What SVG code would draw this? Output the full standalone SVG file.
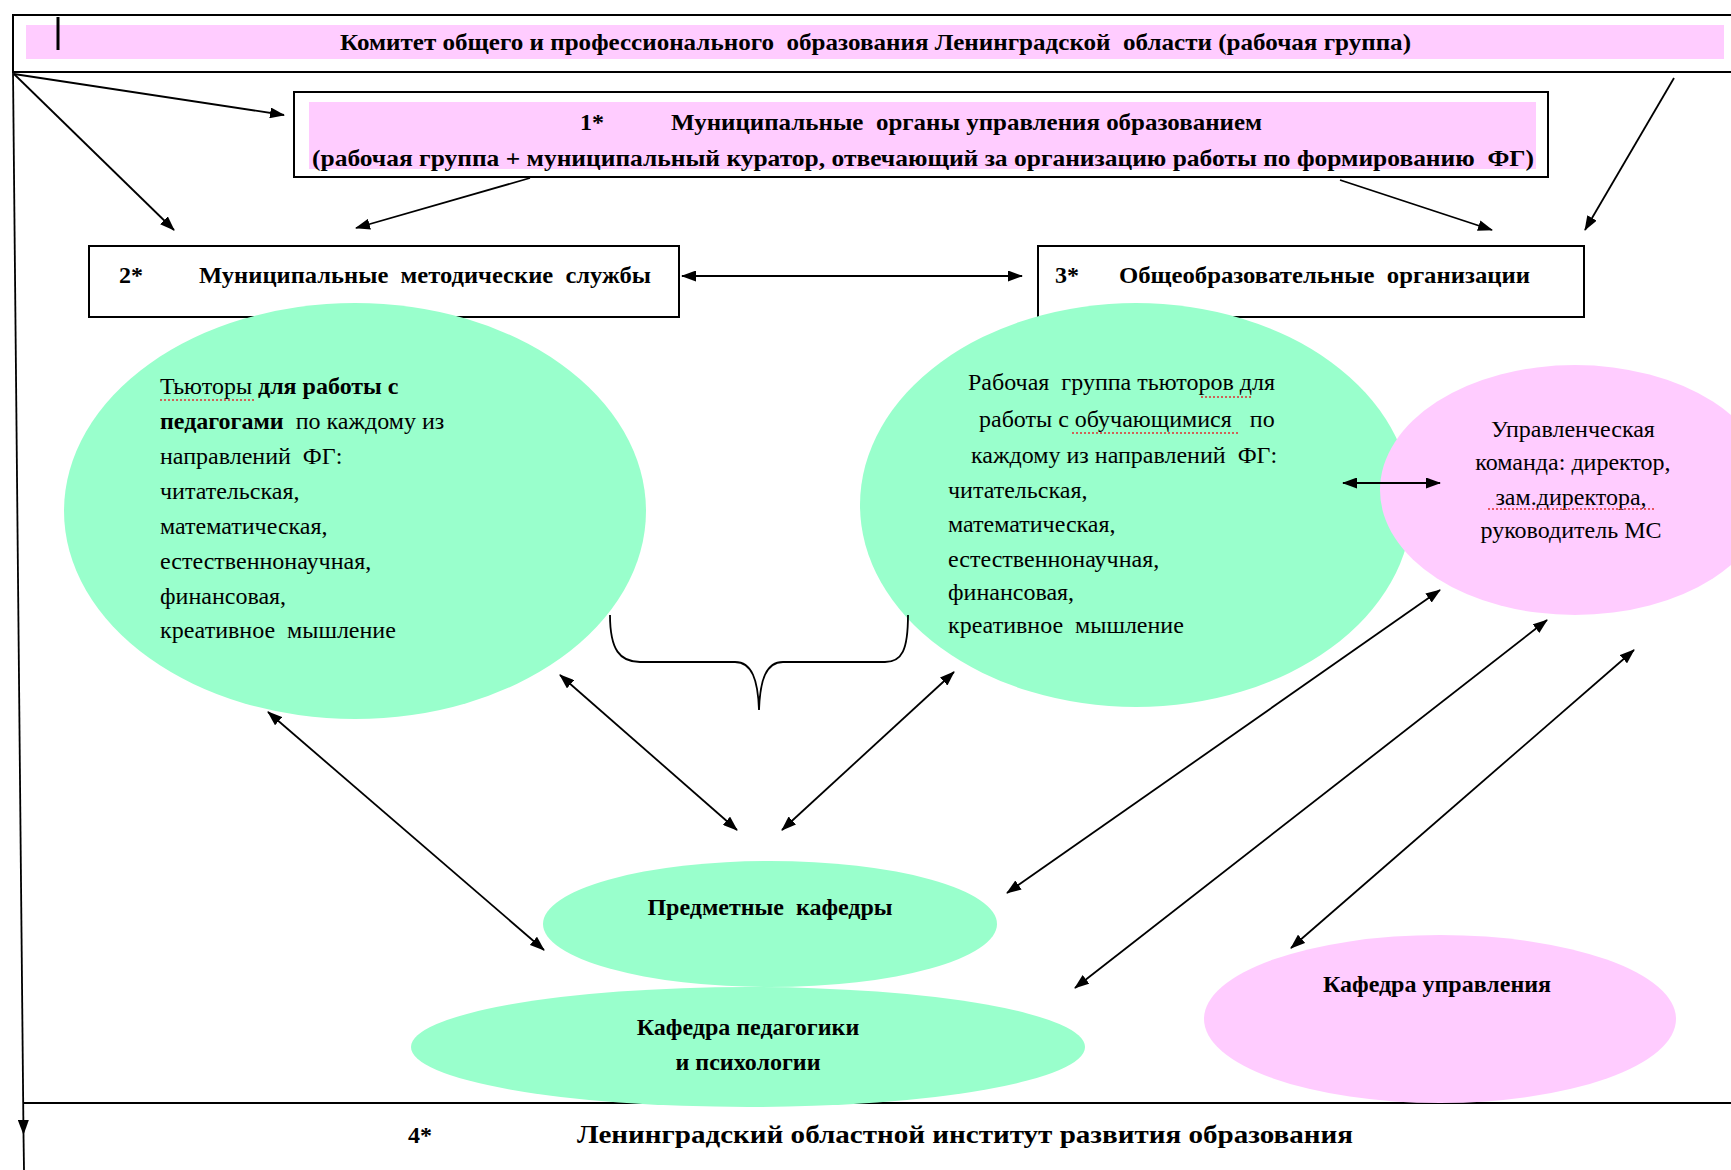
<svg xmlns="http://www.w3.org/2000/svg" width="1731" height="1170" viewBox="0 0 1731 1170">
<defs>
<marker id="ah" markerUnits="userSpaceOnUse" markerWidth="15" markerHeight="11" refX="14" refY="5.5" orient="auto-start-reverse">
<path d="M0,0 L15,5.5 L0,11 z" fill="#000"/>
</marker>
<style>
.box{fill:#fff;stroke:#000;stroke-width:2}
.pink{fill:#FFCCFF}
.green{fill:#99FFCC}
.t{font-family:"Liberation Serif","Times New Roman",serif;font-size:24px;fill:#000;white-space:pre}
.b{font-weight:bold}
.c{text-anchor:middle}
.ln{stroke:#000;stroke-width:1.8;fill:none}
.one{marker-end:url(#ah)}
.two{marker-start:url(#ah);marker-end:url(#ah)}
.sp{stroke:#e03030;stroke-width:1.6;stroke-dasharray:2 2;fill:none}
</style>
</defs>
<rect width="1731" height="1170" fill="#fff"/>

<g id="node-committee">
<rect class="box" x="13" y="15" width="1730" height="57"/>
<rect class="pink" x="26" y="25" width="1698" height="34"/>
<line x1="58" y1="17" x2="58" y2="50" stroke="#000" stroke-width="3"/>
<text class="t b" x="340" y="50" textLength="1071" lengthAdjust="spacingAndGlyphs">Комитет общего и профессионального  образования Ленинградской  области (рабочая группа)</text>
</g>

<g id="node-4-institute">
<line x1="24" y1="1103" x2="1731" y2="1103" stroke="#000" stroke-width="2"/>
<text class="t b" x="408" y="1143" font-size="26">4*</text>
<text class="t b" x="577" y="1143" style="font-size:26px" textLength="776" lengthAdjust="spacingAndGlyphs">Ленинградский областной институт развития образования</text>
</g>

<g id="node-1-municipal">
<rect class="box" x="294" y="92" width="1254" height="85"/>
<rect class="pink" x="309" y="102" width="1227" height="67"/>
<text class="t b" x="580" y="130">1*</text>
<text class="t b" x="671" y="130" textLength="591" lengthAdjust="spacingAndGlyphs">Муниципальные  органы управления образованием</text>
<text class="t b" x="312" y="166" textLength="1222" lengthAdjust="spacingAndGlyphs">(рабочая группа + муниципальный куратор, отвечающий за организацию работы по формированию  ФГ)</text>
</g>

<g id="node-2-methodic">
<rect class="box" x="89" y="246" width="590" height="71"/>
<text class="t b" x="119" y="283">2*</text>
<text class="t b" x="199" y="283" textLength="452" lengthAdjust="spacingAndGlyphs">Муниципальные  методические  службы</text>
</g>

<g id="node-3-schools">
<rect class="box" x="1038" y="246" width="546" height="71"/>
<text class="t b" x="1055" y="283">3*</text>
<text class="t b" x="1119" y="283" textLength="411" lengthAdjust="spacingAndGlyphs">Общеобразовательные  организации</text>
</g>

<g id="node-tutors-teachers">
<ellipse class="green" cx="355" cy="511" rx="291" ry="208"/>
<text class="t" x="160" y="394">Тьюторы <tspan class="b">для работы с</tspan></text>
<text class="t" x="160" y="429"><tspan class="b">педагогами</tspan>  по каждому из</text>
<text class="t" x="160" y="464">направлений  ФГ:</text>
<text class="t" x="160" y="499">читательская,</text>
<text class="t" x="160" y="534">математическая,</text>
<text class="t" x="160" y="569">естественнонаучная,</text>
<text class="t" x="160" y="604">финансовая,</text>
<text class="t" x="160" y="638">креативное  мышление</text>
</g>

<g id="node-tutors-students">
<ellipse class="green" cx="1136" cy="505" rx="276" ry="202"/>
<text class="t" x="968" y="390">Рабочая  группа тьюторов для</text>
<text class="t" x="979" y="427">работы с обучающимися   по</text>
<text class="t" x="971" y="463">каждому из направлений  ФГ:</text>
<text class="t" x="948" y="498">читательская,</text>
<text class="t" x="948" y="532">математическая,</text>
<text class="t" x="948" y="567">естественнонаучная,</text>
<text class="t" x="948" y="600">финансовая,</text>
<text class="t" x="948" y="633">креативное  мышление</text>
</g>

<g id="node-management-team">
<ellipse class="pink" cx="1575" cy="490" rx="195" ry="125"/>
<text class="t c" x="1573" y="437">Управленческая</text>
<text class="t c" x="1573" y="470">команда: директор,</text>
<text class="t c" x="1571" y="505">зам.директора,</text>
<text class="t c" x="1571" y="538">руководитель МС</text>
</g>

<g id="node-subject-depts">
<ellipse class="green" cx="770" cy="924" rx="227" ry="63"/>
<text class="t b c" x="770" y="915">Предметные  кафедры</text>
</g>

<g id="node-pedagogy-dept">
<ellipse class="green" cx="748" cy="1047" rx="337" ry="60"/>
<text class="t b c" x="748" y="1035">Кафедра педагогики</text>
<text class="t b c" x="748" y="1070">и психологии</text>
</g>

<g id="node-management-dept">
<ellipse class="pink" cx="1440" cy="1019" rx="236" ry="84"/>
<text class="t b c" x="1437" y="992">Кафедра управления</text>
</g>

<g id="spellcheck">
<line class="sp" x1="160" y1="400" x2="256" y2="400"/>
<line class="sp" x1="1201" y1="397" x2="1252" y2="397"/>
<line class="sp" x1="1072" y1="433" x2="1238" y2="433"/>
<line class="sp" x1="1488" y1="509" x2="1654" y2="509"/>
</g>

<g id="connectors">
<line class="ln one" x1="14" y1="74" x2="284" y2="115"/>
<line class="ln one" x1="14" y1="74" x2="174" y2="230"/>
<line class="ln one" x1="530" y1="178" x2="356" y2="228"/>
<line class="ln one" x1="1340" y1="180" x2="1492" y2="230"/>
<line class="ln one" x1="1674" y1="78" x2="1585" y2="230"/>
<line class="ln two" x1="682" y1="276" x2="1022" y2="276"/>
<line class="ln two" x1="1343" y1="483" x2="1440" y2="483"/>
<line class="ln two" x1="268" y1="712" x2="544" y2="950"/>
<line class="ln two" x1="560" y1="675" x2="737" y2="830"/>
<line class="ln two" x1="954" y1="672" x2="782" y2="830"/>
<line class="ln two" x1="1440" y1="590" x2="1007" y2="893"/>
<line class="ln two" x1="1547" y1="620" x2="1075" y2="988"/>
<line class="ln two" x1="1634" y1="650" x2="1291" y2="948"/>
<line class="ln one" x1="13" y1="72" x2="23.5" y2="1134"/>
<line class="ln" x1="23.5" y1="1134" x2="24" y2="1170"/>
<path class="ln" d="M610,615 C610,650 620,662 640,662 L735,662 C752,662 758,680 759,710 C760,680 766,662 783,662 L885,662 C902,662 908,650 908,615"/>
</g>
</svg>
